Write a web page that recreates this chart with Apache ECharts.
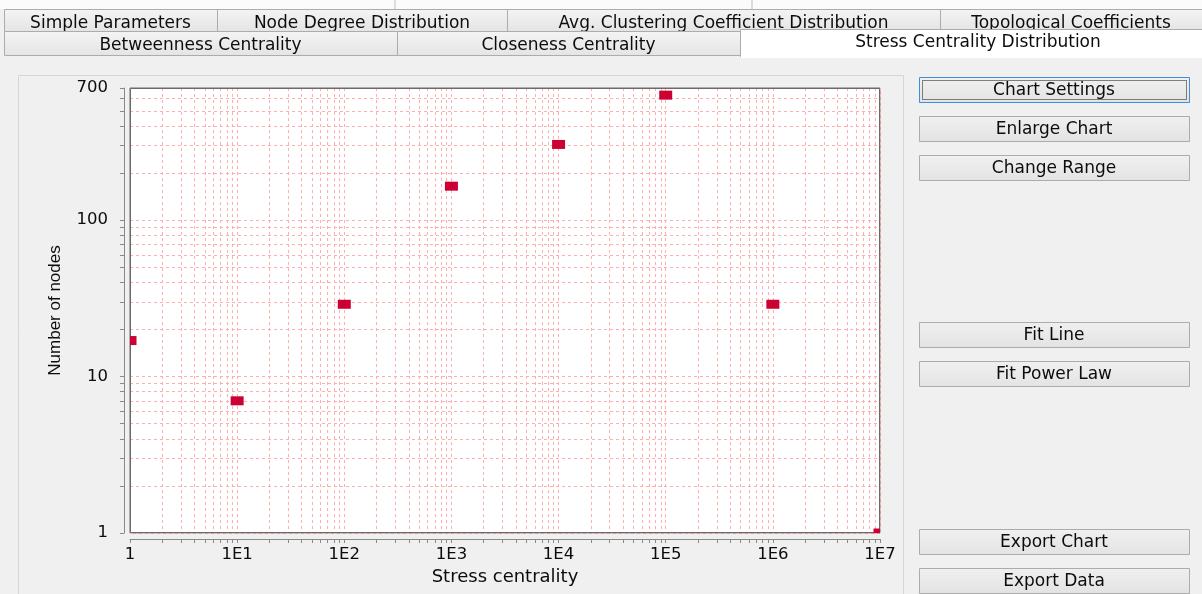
<!DOCTYPE html>
<html>
<head>
<meta charset="utf-8">
<script src="https://cdn.jsdelivr.net/npm/echarts@6/dist/echarts.min.js"></script>
<style>
html,body{margin:0;padding:0;background:#f0f0f0;}
#chart{width:1202px;height:594px;}
</style>
</head>
<body>
<div id="chart"></div>
<script>
// ---- data ----
const stressValues = [1, 10, 100, 1000, 10000, 100000, 1000000, 10000000];
const nodeCounts   = [17, 7, 29, 165, 305, 630, 29, 1];
const xLabelValues = [1, 10, 100, 1000, 10000, 100000, 1000000, 10000000];
const yLabelValues = [1, 10, 100, 700];
const minorSteps   = [1, 2, 3, 4, 5, 6, 7, 8, 9];
const xTitle = 'Stress centrality';
const yTitle = 'Number of nodes';
const tabsRow1 = ['Simple Parameters', 'Node Degree Distribution', 'Avg. Clustering Coefficient Distribution', 'Topological Coefficients'];
const tabsRow2 = ['Betweenness Centrality', 'Closeness Centrality', 'Stress Centrality Distribution'];
const buttonLabels = ['Chart Settings', 'Enlarge Chart', 'Change Range', 'Fit Line', 'Fit Power Law', 'Export Chart', 'Export Data'];

// minor tick values (decade * step) inside each axis range
function logTicks(maxVal) {
  const out = [];
  for (let d = 1; d <= maxVal; d *= 10) {
    minorSteps.forEach(s => { const v = d * s; if (v <= maxVal * 1.0000001) out.push(v); });
  }
  return out;
}
const xTicks = logTicks(10000000);
const yTicks = logTicks(700);

const FONT = 'DejaVu Sans';
const TXT = '#0c0c0c';

// ---- layout of the plot area ----
const G = {left:130, top:88, width:750, height:445};

// ---- UI chrome (tabs / buttons) ----
const graphics = [];
graphics.push({type:'rect', shape:{x:0,y:0,width:1202,height:9}, style:{fill:'#fbfbfb'}, silent:true});
[395, 752].forEach(x => graphics.push({type:'line', shape:{x1:x,y1:0,x2:x,y2:9}, style:{stroke:'#bdbdbd',lineWidth:1}}));
function tabFill(){ return new echarts.graphic.LinearGradient(0,0,0,1,[{offset:0,color:'#f4f4f4'},{offset:1,color:'#e4e4e4'}]); }
const row1 = [[4,217],[217,507],[507,940],[940,1202]];
row1.forEach((r,i) => {
  graphics.push({type:'rect', shape:{x:r[0]+0.5,y:9.5,width:r[1]-r[0],height:22}, style:{fill:tabFill(),stroke:'#acacac',lineWidth:1}});
  graphics.push({type:'text', x:(r[0]+r[1])/2, y:24, style:{text:tabsRow1[i], font:'17px "'+FONT+'"', fill:TXT, align:'center', verticalAlign:'middle'}});
});
const row2 = [[4,397],[397,740]];
row2.forEach((r,i) => {
  graphics.push({type:'rect', shape:{x:r[0]+0.5,y:31.5,width:r[1]-r[0],height:24}, style:{fill:tabFill(),stroke:'#acacac',lineWidth:1}});
  graphics.push({type:'text', x:(r[0]+r[1])/2, y:46, style:{text:tabsRow2[i], font:'17px "'+FONT+'"', fill:TXT, align:'center', verticalAlign:'middle'}});
});
graphics.push({type:'rect', shape:{x:740.5,y:29.5,width:470,height:27}, style:{fill:'#ffffff',stroke:'#acacac',lineWidth:1}});
graphics.push({type:'rect', shape:{x:741,y:54,width:470,height:4}, style:{fill:'#ffffff'}});
graphics.push({type:'text', x:978, y:43, style:{text:tabsRow2[2], font:'17px "'+FONT+'"', fill:TXT, align:'center', verticalAlign:'middle'}});
// chart panel outline
graphics.push({type:'rect', shape:{x:18.5,y:75.5,width:885,height:540}, style:{fill:'none',stroke:'#d6d6d6',lineWidth:1}, z:-1});
// plot border drawn above grid lines
graphics.push({type:'rect', shape:{x:G.left+0.5,y:G.top+0.5,width:G.width-1,height:G.height-1}, style:{fill:'none',stroke:'#6a6a6a',lineWidth:1}, z:5, silent:true});
// buttons
const btnY = [77, 116, 155, 322, 361, 529, 568];
btnY.forEach((y,i) => {
  const focus = i === 0;
  graphics.push({type:'rect', shape:{x:919.5,y:y+0.5,width:270,height:25},
    style:{fill:new echarts.graphic.LinearGradient(0,0,0,1,[{offset:0,color:'#f0f0f0'},{offset:1,color:'#e3e3e3'}]), stroke: focus ? '#3f8fd8' : '#acacac', lineWidth:1}});
  if (focus) {
    graphics.push({type:'rect', shape:{x:922.5,y:y+3.5,width:264,height:19}, style:{fill:'none',stroke:'#111',lineWidth:1,lineDash:[1,1]}});
  }
  graphics.push({type:'text', x:1054, y:y+14, style:{text:buttonLabels[i], font:'17px "'+FONT+'"', fill:TXT, align:'center', verticalAlign:'middle'}});
});

const chart = echarts.init(document.getElementById('chart'), null, {renderer:'canvas'});
const gridLine = {show:true, lineStyle:{color:'#ffaeae', width:1, type:[3,3]}};
const axisGray = '#8a8a8a';
chart.setOption({
  backgroundColor:'#f0f0f0',
  animation:false,
  graphic: graphics,
  grid:{left:G.left, top:G.top, width:G.width, height:G.height, show:true, backgroundColor:'#ffffff', borderColor:'#6a6a6a', borderWidth:1, containLabel:false},
  xAxis:{
    type:'log', logBase:10, min:1, max:10000000, offset:6,
    axisLine:{show:true, onZero:false, lineStyle:{color:axisGray}},
    axisTick:{show:true, customValues:xTicks, length:4, lineStyle:{color:axisGray}},
    minorTick:{show:false},
    axisLabel:{customValues:xLabelValues, margin:7, fontSize:16.5, fontFamily:FONT, color:TXT,
      formatter:v => { const e = Math.round(Math.log10(v)); return e === 0 ? '1' : '1E' + e; }},
    splitLine:gridLine,
    name:xTitle, nameLocation:'middle', nameGap:29,
    nameTextStyle:{fontSize:18, fontFamily:FONT, color:TXT}
  },
  yAxis:{
    type:'log', logBase:10, min:1, max:700, offset:6,
    axisLine:{show:true, onZero:false, lineStyle:{color:axisGray}},
    axisTick:{show:true, customValues:yTicks, length:4, lineStyle:{color:axisGray}},
    minorTick:{show:false},
    axisLabel:{customValues:yLabelValues, margin:16, fontSize:16.5, fontFamily:FONT, color:TXT,
      formatter:v => String(Math.round(v))},
    splitLine:gridLine,
    name:yTitle, nameLocation:'middle', nameGap:60, nameRotate:90,
    nameTextStyle:{fontSize:17, fontFamily:'Liberation Sans', color:TXT}
  },
  series:[{
    type:'custom',
    clip:true,
    z:10,
    data: stressValues.map((x,i) => [x, nodeCounts[i]]),
    encode:{x:0, y:1},
    renderItem:(params, api) => {
      const p = api.coord([api.value(0), api.value(1)]);
      const cs = params.coordSys;
      const r = echarts.graphic.clipRectByRect({x:p[0]-6.5, y:p[1]-4.5, width:13, height:9},
        {x:cs.x, y:cs.y, width:cs.width, height:cs.height});
      if (!r) return null;
      return {type:'rect', shape:r, style:{fill:'#cc0033'}};
    }
  }]
});
</script>
</body>
</html>
